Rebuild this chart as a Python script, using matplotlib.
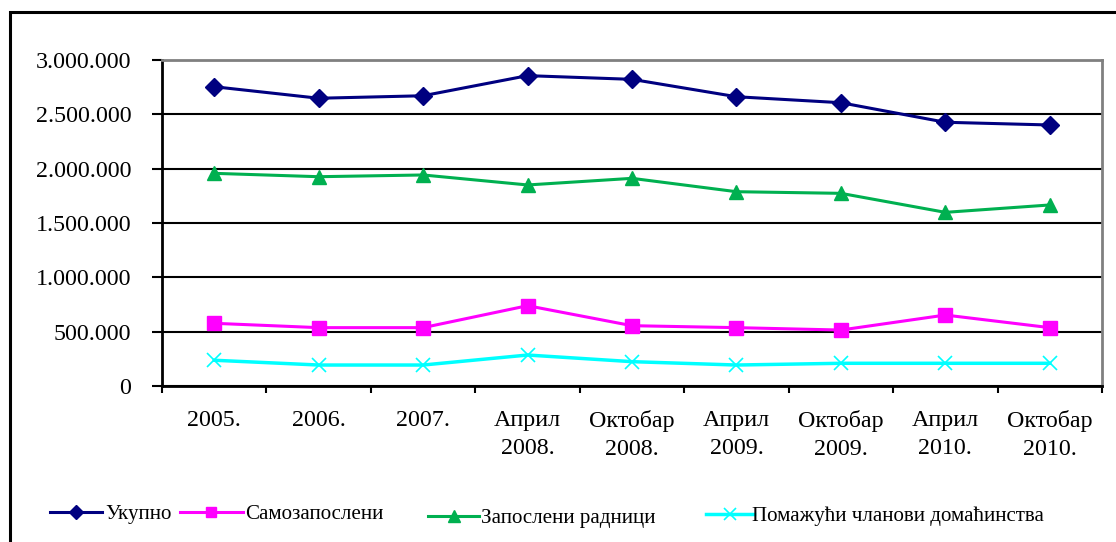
import matplotlib
matplotlib.use("Agg")
import matplotlib.pyplot as plt
from matplotlib.patches import Rectangle
from matplotlib.ticker import FuncFormatter, FixedLocator

plt.rcParams['font.family'] = ['Liberation Serif', 'DejaVu Serif']

categories = ["2005.", "2006.", "2007.", "Април\n2008.", "Октобар\n2008.",
              "Април\n2009.", "Октобар\n2009.", "Април\n2010.", "Октобар\n2010."]

ukupno = [2754000, 2648000, 2671000, 2856000, 2822000, 2662000, 2607000, 2427000, 2402000]
samozaposleni = [577000, 537000, 537000, 739000, 555000, 537000, 515000, 653000, 537000]
zaposleni = [1957000, 1926000, 1942000, 1850000, 1911000, 1788000, 1773000, 1598000, 1666000]
pomazuci = [237000, 193000, 193000, 285000, 224000, 193000, 209000, 209000, 209000]

series_names = ["Укупно", "Самозапослени", "Запослени радници", "Помажући чланови домаћинства"]
y_ticks = [0, 500000, 1000000, 1500000, 2000000, 2500000, 3000000]

W, H = 1116, 542
fig = plt.figure(figsize=(W / 100, H / 100), dpi=100)
ax = fig.add_axes([162 / W, 1 - 386 / H, (1102 - 162) / W, (386 - 60) / H])

x = list(range(len(categories)))
h1, = ax.plot(x, ukupno, color='#000080', lw=2.2, marker='D', ms=9.5, zorder=5)
h2, = ax.plot(x, samozaposleni, color='#FF00FF', lw=2.2, marker='s', ms=9.5, zorder=5)
h3, = ax.plot(x, zaposleni, color='#00B050', lw=2.2, marker='^', ms=10, zorder=5)
h4, = ax.plot(x, pomazuci, color='#00FFFF', lw=2.5, marker='x', ms=10, mew=1.2, zorder=5)

ax.set_xlim(-0.5, len(categories) - 0.5)
ax.set_ylim(0, 3000000)

# y axis
ax.set_yticks(y_ticks)
ax.yaxis.set_major_formatter(FuncFormatter(lambda v, p: f"{int(v):,}".replace(",", ".")))
ax.tick_params(axis='y', direction='out', length=7, width=1.5, pad=15, labelsize=17.3, colors='black')
ax.yaxis.grid(True, color='black', lw=1.5)
ax.set_axisbelow(True)

# x axis: ticks between categories, labels at centres
ax.xaxis.set_major_locator(FixedLocator([i - 0.5 for i in range(len(categories) + 1)]))
ax.xaxis.set_major_formatter(FuncFormatter(lambda v, p: ""))
ax.xaxis.set_minor_locator(FixedLocator(x))
ax.set_xticklabels(categories, minor=True)
ax.tick_params(axis='x', which='major', direction='out', length=5, width=1.5)
ax.tick_params(axis='x', which='minor', length=0, pad=17, labelsize=17.3)
for lab in ax.get_xticklabels(minor=True):
    lab.set_linespacing(1.45)

for s in ['left', 'bottom']:
    ax.spines[s].set_color('black')
    ax.spines[s].set_linewidth(2)
for s in ['top', 'right']:
    ax.spines[s].set_color('#808080')
    ax.spines[s].set_linewidth(2)

# outer frame (cropped at right and bottom)
frame = Rectangle((10 / W, -0.1), 1.2, 1 - 12 / H + 0.1, transform=fig.transFigure,
                  fill=False, edgecolor='black', lw=2.2, clip_on=False)
fig.patches.append(frame)

# legend entries placed individually
legend_specs = [
    (h1, series_names[0], 50, 514, 2.5, 0.15),
    (h2, series_names[1], 180, 514, 3.0, 0.1),
    (h3, series_names[2], 428, 518, 2.45, 0.1),
    (h4, series_names[3], 706, 516, 2.3, -0.1),
]
for handle, name, lx, ly, hl, tp in legend_specs:
    fig.legend([handle], [name], loc='center left', bbox_to_anchor=(lx / W, 1 - ly / H),
               frameon=False, fontsize=15.1, handlelength=hl, handletextpad=tp,
               borderpad=0, borderaxespad=0, markerscale=0.8)

fig.savefig("out.png", dpi=100)
